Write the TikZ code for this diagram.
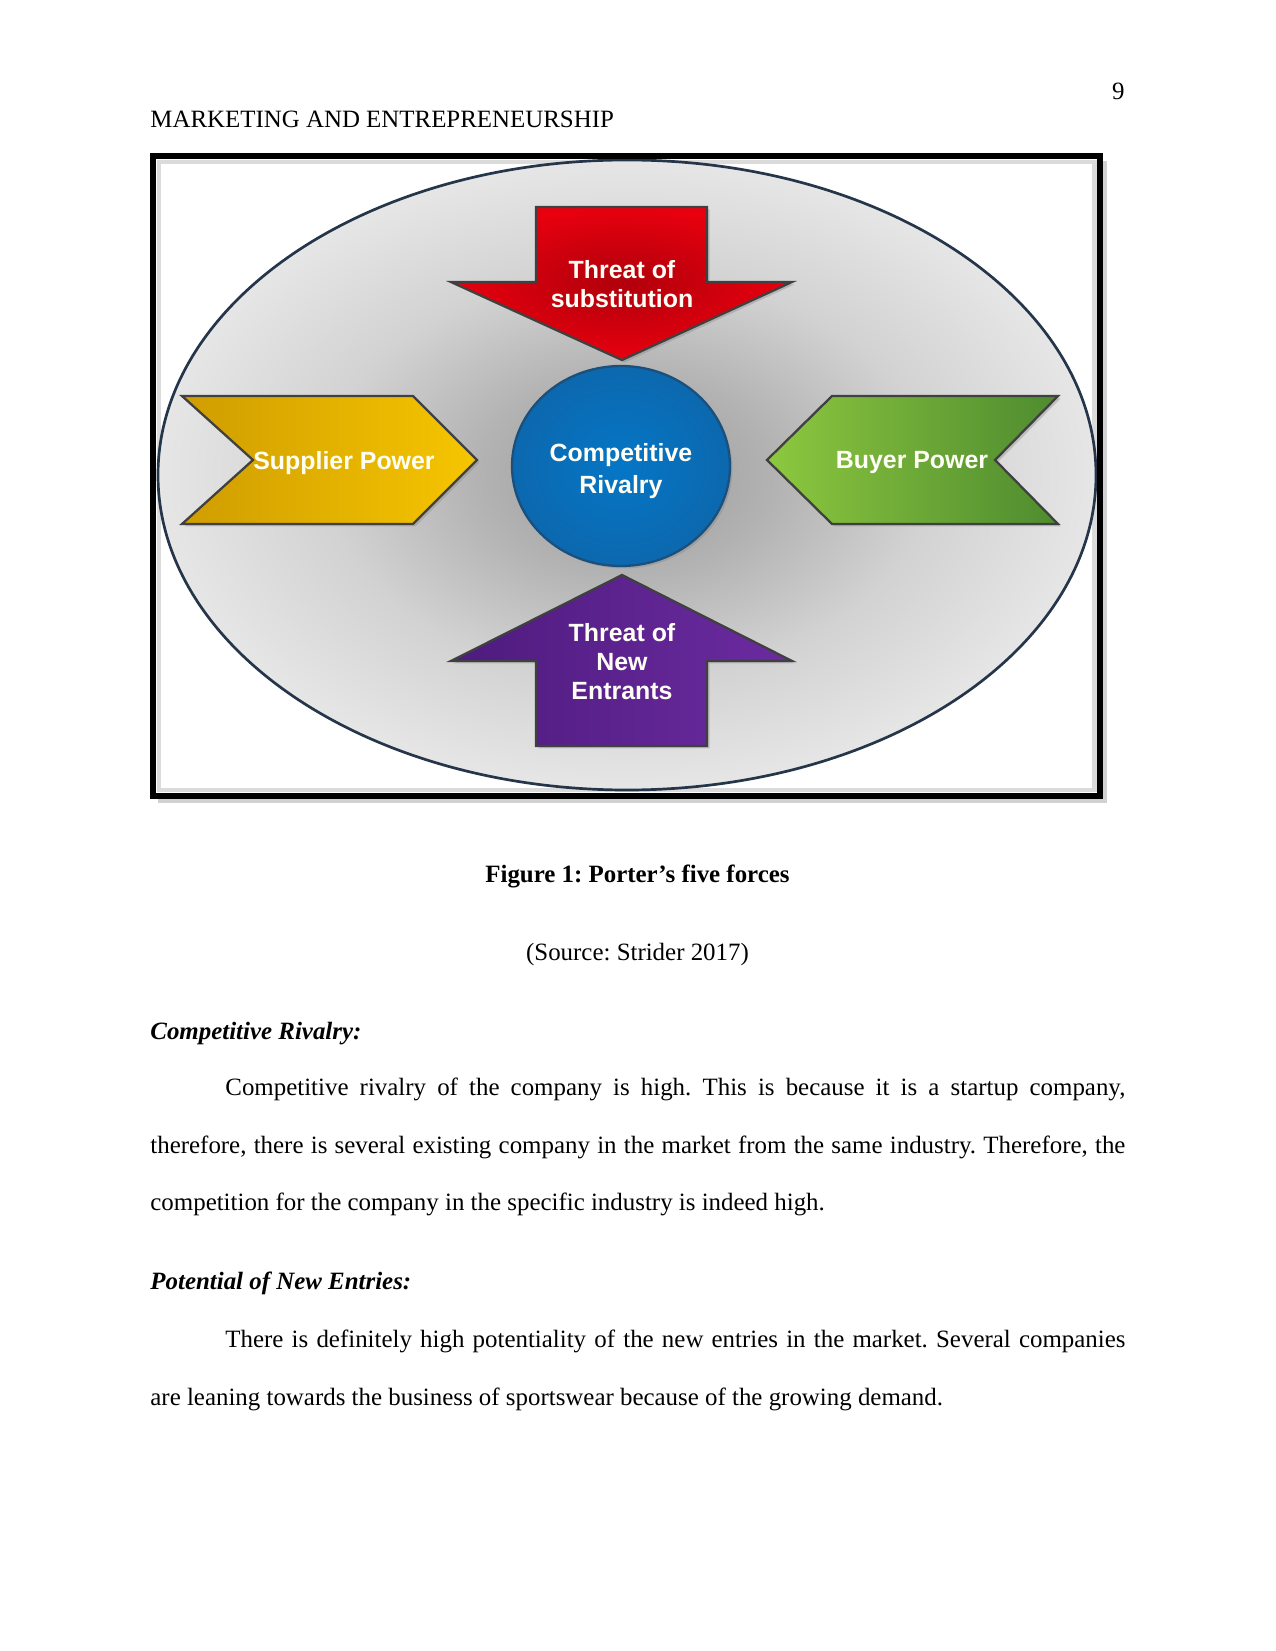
\documentclass[tikz,border=0pt]{standalone}
\usepackage{fontspec}
\setmainfont{Liberation Serif}
\newfontfamily\labfont{Liberation Sans}
\usetikzlibrary{shadows}
\frenchspacing

\definecolor{fieldA}{HTML}{9A9A9A}
\definecolor{fieldB}{HTML}{B3B3B3}
\definecolor{fieldC}{HTML}{D2D2D2}
\definecolor{fieldD}{HTML}{E6E6E6}
\definecolor{ringline}{HTML}{26364A}
\definecolor{redin}{HTML}{B0000C}
\definecolor{redout}{HTML}{E8000E}
\definecolor{bluein}{HTML}{0576C6}
\definecolor{blueout}{HTML}{0C68AE}
\definecolor{blueline}{HTML}{1B4F7C}
\definecolor{goldL}{HTML}{CF9D00}
\definecolor{goldR}{HTML}{F6C500}
\definecolor{greenL}{HTML}{8DC83F}
\definecolor{greenR}{HTML}{4E8B2F}
\definecolor{purpL}{HTML}{4E1B7E}
\definecolor{purpR}{HTML}{6B2BA0}
\pgfdeclareradialshading{field}{\pgfpoint{0bp}{0bp}}{color(0bp)=(fieldA); color(8bp)=(fieldB); color(16bp)=(fieldC); color(25bp)=(fieldD); color(50bp)=(fieldD)}

\begin{document}
\begin{tikzpicture}[x=0.4818pt,y=-0.4818pt,
 txt/.style={font=\fontsize{12pt}{14pt}\selectfont,inner sep=0pt},
 txtb/.style={font=\fontsize{12pt}{14pt}\selectfont\bfseries,inner sep=0pt},
 txtbi/.style={font=\fontsize{12pt}{14pt}\selectfont\bfseries\itshape,inner sep=0pt},
 lab/.style={font=\labfont\bfseries\fontsize{12pt}{14pt}\selectfont,text=white!96!yellow,align=center,inner sep=0pt},
 force/.style={draw=black!75,line width=1.1pt,line join=miter,
   drop shadow={opacity=.35,shadow xshift=1.2pt,shadow yshift=-1.2pt}}]
\useasboundingbox (0,0) rectangle (1275,1651);
\fill[white] (0,0) rectangle (1275,1651);
% Page header.
\node[txt,anchor=base west] (head) at (150,128) {MARKETING AND ENTREPRENEURSHIP};
\node[txt,anchor=base east] (pg) at (1125,100) {9};
% Framed picture: shadow, field, ring.
\fill[black!18] (158,161) rectangle (1107,803);
\fill[white] (153,156) rectangle (1100,796);
\draw[black!14,line width=2.4pt] (159,162) rectangle (1094,790);
\shade[shading=field] (627,475) ellipse [x radius=469,y radius=315];
\draw[ringline,line width=1.3pt] (627,475) ellipse [x radius=469,y radius=315];
% The four forces round the centre.
\shadedraw[force,inner color=redin,outer color=redout]
  (536,207) -- (707,207) -- (707,282) -- (792,282) -- (622,360) -- (451,282) -- (536,282) -- cycle;
\shadedraw[force,left color=purpL,right color=purpR]
  (536,746) -- (707,746) -- (707,661) -- (792,661) -- (622,575) -- (451,661) -- (536,661) -- cycle;
\shadedraw[force,left color=goldL,right color=goldR]
  (182,396) -- (413,396) -- (477,460) -- (413,524) -- (182,524) -- (253,460) -- cycle;
\shadedraw[force,left color=greenL,right color=greenR]
  (1058,396) -- (832,396) -- (767,460) -- (832,524) -- (1058,524) -- (995,460) -- cycle;
\shadedraw[force,draw=blueline,inner color=bluein,outer color=blueout]
  (621,466) ellipse [x radius=109,y radius=100];
\node[lab] (sub) at (622,284) {Threat of\\substitution};
\node[lab,font=\labfont\bfseries\fontsize{12pt}{15pt}\selectfont] (riv) at (621,471) {Competitive\\Rivalry};
\node[lab] (sup) at (344,463) {Supplier Power};
\node[lab] (buy) at (912,463) {Buyer Power};
\node[lab] (ent) at (622,662) {Threat of\\New\\Entrants};
\draw[black,line width=2.9pt] (153,156) rectangle (1100,796);
% Caption and body text.
\node[txtb,anchor=base] (cap) at (637.5,882) {Figure 1: Porter’s five forces};
\node[txt,anchor=base] (src) at (637.5,960) {(Source: Strider 2017)};
\node[txtbi,anchor=base west] (h1) at (150,1039) {Competitive Rivalry:};
\node[txt,anchor=base west] (l1) at (225,1095) {\makebox[6in][s]{Competitive rivalry of the company is high. This is because it is a startup company,}};
\node[txt,anchor=base west] (l2) at (150,1153) {\makebox[6.5in][s]{therefore, there is several existing company in the market from the same industry. Therefore, the}};
\node[txt,anchor=base west] (l3) at (150,1210) {competition for the company in the specific industry is indeed high.};
\node[txtbi,anchor=base west] (h2) at (150,1289) {Potential of New Entries:};
\node[txt,anchor=base west] (l4) at (225,1347) {\makebox[6in][s]{There is definitely high potentiality of the new entries in the market. Several companies}};
\node[txt,anchor=base west] (l5) at (150,1405) {are leaning towards the business of sportswear because of the growing demand.};
\end{tikzpicture}
\end{document}
